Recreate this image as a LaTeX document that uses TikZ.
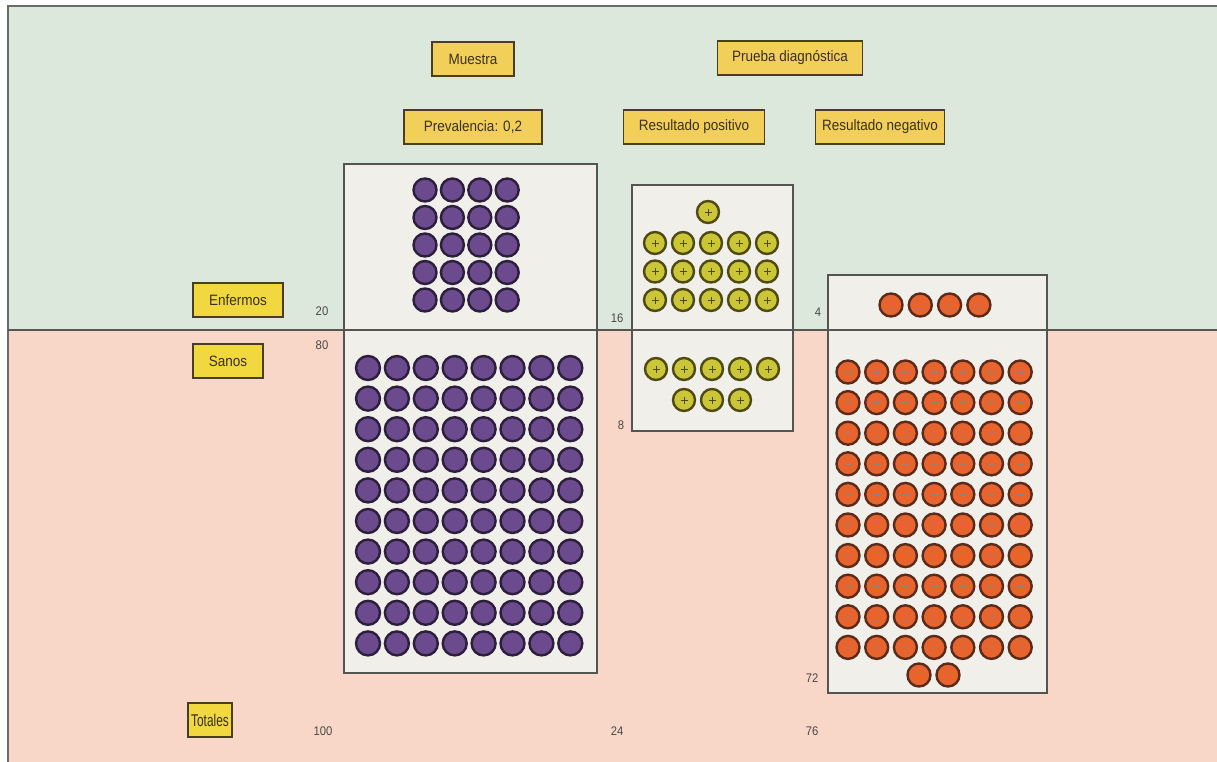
\documentclass[tikz,border=0pt]{standalone}
\usepackage{fontspec}
\setmainfont{Liberation Sans}[FakeStretch=0.9]
\newfontfamily\narrowfont{Liberation Sans}[FakeStretch=0.7]
\definecolor{bggreen}{HTML}{DCE8DC}
\definecolor{bgpink}{HTML}{F8D7C8}
\definecolor{edgegray}{HTML}{6A6A66}
\definecolor{panelfill}{HTML}{F0EFEA}
\definecolor{panelborder}{HTML}{55554F}
\definecolor{labfill}{HTML}{F2CF58}
\definecolor{labfillb}{HTML}{F0D83E}
\definecolor{labborder}{HTML}{4A3E20}
\definecolor{labtext}{HTML}{3A3020}
\definecolor{numtext}{HTML}{4A4A44}
\definecolor{purfill}{HTML}{6B4A8E}
\definecolor{purring}{HTML}{2C1F3C}
\definecolor{yelfill}{HTML}{CBC638}
\definecolor{yelring}{HTML}{4E4A12}
\definecolor{orafill}{HTML}{E8642E}
\definecolor{oraring}{HTML}{5A2A1A}
\begin{document}
\begin{tikzpicture}[x=1pt,y=-1pt,
  lab/.style={draw=labborder, line width=1.6pt, fill=labfill, inner xsep=2pt, inner ysep=0pt,
    minimum height=34pt, font=\fontsize{15}{17}\selectfont, text=labtext},
  labside/.style={lab, fill=labfillb},
  num/.style={font=\fontsize{12.5}{14}\selectfont, text=numtext, inner sep=0pt},
  panel/.style={draw=panelborder, line width=1.3pt, fill=panelfill},
  purdot/.style={fill=purfill, draw=purring, line width=2.4pt},
  yeldot/.style={fill=yelfill, draw=yelring, line width=2.4pt},
  oradot/.style={fill=orafill, draw=oraring, line width=2.4pt},
  sign/.style={line width=0.6pt}]
\useasboundingbox (0,0) rectangle (1217,762);
\fill[white] (0,0) rectangle (1217,762);
\fill[bggreen] (8,6) rectangle (1217,330);
\fill[bgpink] (8,330) rectangle (1217,762);
\draw[edgegray, line width=1.5pt] (1217,6) -- (8,6) -- (8,762);

% panels
\draw[panel] (344,164) rectangle (597,673);
\draw[panel] (632,185) rectangle (793,431);
\draw[panel] (828,275) rectangle (1047,693);

% divider
\draw[edgegray!80!black, line width=1.5pt] (8,330) -- (1217,330);

% purple dots: 20 enfermos
\foreach \i in {0,...,3}{\foreach \j in {0,...,4}{
  \draw[purdot] ({425+27.4*\i},{190+27.5*\j}) circle (11.5);}}
% purple dots: 80 sanos
\foreach \i in {0,...,7}{\foreach \j in {0,...,9}{
  \draw[purdot] ({368+28.9*\i},{368+30.6*\j}) circle (12);}}

% positive results
\newcommand{\posdot}[2]{\draw[yeldot] (#1,#2) circle (11);
  \draw[sign,yelring] ({#1-3.5},#2) -- ({#1+3.5},#2) ({#1},{#2-3.5}) -- ({#1},{#2+3.5});}
\posdot{708}{212}
\foreach \i in {0,...,4}{\foreach \j in {0,...,2}{
  \posdot{655+28*\i}{243+28.5*\j}}}
\foreach \i in {0,...,4}{\posdot{656+28*\i}{369}}
\foreach \i in {0,...,2}{\posdot{684+28*\i}{400}}

% negative results
\newcommand{\negdot}[2]{\draw[oradot] (#1,#2) circle (11.5);
  \draw[sign,oraring!60] ({#1-3.5},#2) -- ({#1+3.5},#2);}
\foreach \i in {0,...,3}{\negdot{891+29.3*\i}{305}}
\foreach \i in {0,...,6}{\foreach \j in {0,...,9}{
  \negdot{848+28.7*\i}{372+30.6*\j}}}
\negdot{919}{675}
\negdot{948}{675}

% labels
\node[lab, minimum width=82pt] (muestra) at (473,59) {Muestra};
\node[lab, minimum width=138pt] (prev) at (473,127) {Prevalencia: 0,2};
\node[lab, minimum width=145pt] (prueba) at (790,58) {Prueba diagnóstica};
\node[lab, minimum width=141pt] (rpos) at (694,127) {Resultado positivo};
\node[lab, minimum width=129pt] (rneg) at (880,127) {Resultado negativo};
\node[labside, minimum width=90pt] (enf) at (238,300) {Enfermos};
\node[labside, minimum width=70pt] (sanos) at (228,361) {Sanos};
\node[labside, minimum width=44pt, font=\narrowfont\fontsize{17}{19}\selectfont] (tot) at (210,720) {Totales};

% numbers
\node[num] (n20) at (322,311) {20};
\node[num] (n80) at (322,345) {80};
\node[num] (n16) at (617,318) {16};
\node[num] (n8) at (621,425) {8};
\node[num] (n4) at (818,312) {4};
\node[num] (n72) at (812,678) {72};
\node[num] (n100) at (323,731) {100};
\node[num] (n24) at (617,731) {24};
\node[num] (n76) at (812,731) {76};
\end{tikzpicture}
\end{document}
